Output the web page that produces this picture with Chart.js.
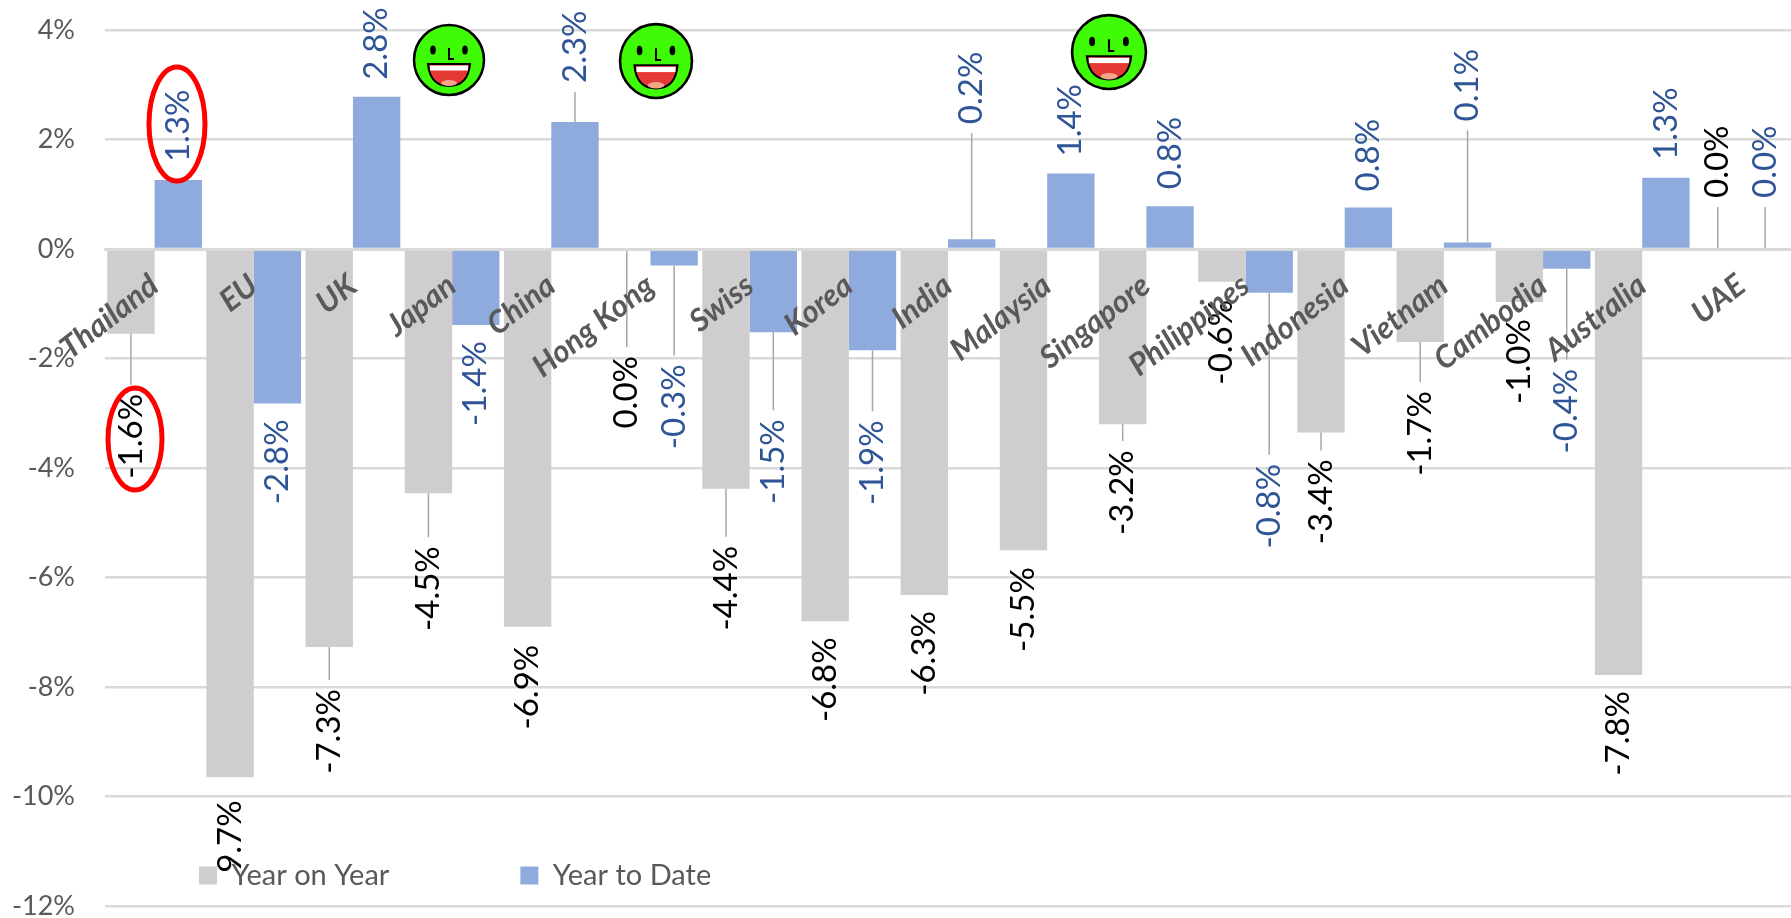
<!DOCTYPE html>
<html>
<head>
<meta charset="utf-8">
<title>Year on Year / Year to Date</title>
<script src="https://cdn.jsdelivr.net/npm/chart.js@4"></script>
<style>
    html, body { margin: 0; padding: 0; background: #fff; }
    canvas { display: block; }
</style>
</head>
<body>
<canvas id="myChart" width="1791" height="918"></canvas>
<script>
const categories = ['Thailand', 'EU', 'UK', 'Japan', 'China', 'Hong Kong', 'Swiss', 'Korea', 'India', 'Malaysia', 'Singapore', 'Philippines', 'Indonesia', 'Vietnam', 'Cambodia', 'Australia', 'UAE'];
const yearOnYear = [-1.55, -9.65, -7.27, -4.46, -6.9, 0, -4.38, -6.8, -6.32, -5.5, -3.2, -0.6, -3.35, -1.7, -0.97, -7.78, 0];
const yearToDate = [1.26, -2.82, 2.78, -1.39, 2.32, -0.3, -1.52, -1.85, 0.18, 1.38, 0.78, -0.8, 0.76, 0.12, -0.36, 1.3, 0];
const yTicks = [4, 2, 0, -2, -4, -6, -8, -10, -12];

// distance of each value label from its bar end, px. negative = below the bar end
const yoyLabelGap = [-60, -23, -42, -53, -18, -107, -57, -16, -16, -17, -26, -18, -27, -49, -17, -16, 51];
const ytdLabelGap = [18, -16, 17, -16, 39, -99, -87, -70, 115, 17, 17, -171, 16, 121, -100, 18, 51];

const GREY = '#cfcdce';
const BLUE = '#8faadc';
const TEXT_GREY = '#595959';
const LABEL_BLUE = '#2f5597';
const LEADER = '#a6a6a6';
const GRID = '#d9d9d9';
const LEGEND_GAP = 131;

function drawLabels(chart, index, gaps, color) {
    const ctx = chart.ctx;
    const bars = chart.getDatasetMeta(index).data;
    bars.forEach(function(bar, i) {
        const gap = gaps[i];
        const value = chart.data.datasets[index].data[i];
        const textY = bar.y - gap;
        if (Math.abs(gap) > 25) {
            const dir = gap > 0 ? 1 : -1;
            ctx.strokeStyle = LEADER;
            ctx.lineWidth = 1.5;
            ctx.beginPath();
            ctx.moveTo(bar.x, bar.y);
            ctx.lineTo(bar.x, textY + dir * 9);
            ctx.stroke();
        }
        ctx.save();
        ctx.translate(bar.x, textY);
        ctx.rotate(-Math.PI / 2);
        ctx.font = '33px Lato';
        ctx.fillStyle = color;
        ctx.textBaseline = 'middle';
        ctx.textAlign = gap > 0 ? 'left' : 'right';
        ctx.fillText(value.toFixed(1) + '%', 0, 0);
        ctx.restore();
    });
}

function drawSmiley(ctx, cx, cy, rx, ry) {
    ctx.save();
    ctx.translate(cx, cy);
    ctx.scale(rx / 36, ry / 36);
    ctx.fillStyle = '#3ffb05';
    ctx.strokeStyle = '#000';
    ctx.lineWidth = 2.5;
    ctx.beginPath();
    ctx.ellipse(0, 0, 35, 35, 0, 0, Math.PI * 2);
    ctx.fill();
    ctx.stroke();
    // eyes
    ctx.fillStyle = '#000';
    ctx.beginPath();
    ctx.ellipse(-16, -10, 2.8, 4.5, 0, 0, Math.PI * 2);
    ctx.ellipse(16, -10, 2.8, 4.5, 0, 0, Math.PI * 2);
    ctx.fill();
    // nose
    ctx.lineWidth = 2;
    ctx.beginPath();
    ctx.moveTo(0, -12);
    ctx.lineTo(0, -1);
    ctx.lineTo(5, -1);
    ctx.stroke();
    // mouth
    ctx.fillStyle = '#e53935';
    ctx.lineWidth = 2;
    ctx.beginPath();
    ctx.moveTo(-21, 4);
    ctx.lineTo(21, 4);
    ctx.quadraticCurveTo(19, 26, 0, 26);
    ctx.quadraticCurveTo(-19, 26, -21, 4);
    ctx.closePath();
    ctx.fill();
    ctx.stroke();
    ctx.fillStyle = '#fff';
    ctx.fillRect(-19, 5.5, 38, 5);
    ctx.fillStyle = '#f4a58a';
    ctx.beginPath();
    ctx.ellipse(0, 23, 8, 3, 0, 0, Math.PI * 2);
    ctx.fill();
    ctx.restore();
}

function drawRing(ctx, cx, cy, rx, ry) {
    ctx.strokeStyle = '#ff0000';
    ctx.lineWidth = 5;
    ctx.beginPath();
    ctx.ellipse(cx, cy, rx, ry, 0, 0, Math.PI * 2);
    ctx.stroke();
}

const annotate = {
    id: 'annotate',
    afterInit: function(chart) {
        // legend sits inside the plot, so it must not take room from the layout
        const fit = chart.legend.fit;
        chart.legend.fit = function() {
            fit.call(this);
            this.height = 0;
        };
    },
    afterLayout: function(chart) {
        const legend = chart.legend;
        legend.left = 199 - LEGEND_GAP;
        legend.right = 1791;
        legend.width = legend.right - legend.left;
        legend.top = 861 - LEGEND_GAP;
        legend.bottom = 918;
        legend.height = legend.bottom - legend.top;
    },
    afterDatasetsDraw: function(chart) {
        const ctx = chart.ctx;
        ctx.save();
        // the legend band hides whatever label runs into it
        ctx.beginPath();
        ctx.rect(0, 0, 1791, 873);
        ctx.clip();
        drawLabels(chart, 0, yoyLabelGap, '#000000');
        drawLabels(chart, 1, ytdLabelGap, LABEL_BLUE);
        ctx.restore();
        drawSmiley(ctx, 449, 60, 36, 36);
        drawSmiley(ctx, 656, 61, 37, 38);
        drawSmiley(ctx, 1109, 52, 38, 38);
        drawRing(ctx, 177, 124, 28, 57);
        drawRing(ctx, 135, 439, 27, 51);
    }
};

const myChart = document.getElementById('myChart').getContext('2d');

const barChart = new Chart(myChart, {
    type: 'bar',
    data: {
        labels: categories,
        datasets: [{
            label: 'Year on Year',
            data: yearOnYear,
            backgroundColor: GREY
        }, {
            label: 'Year to Date',
            data: yearToDate,
            backgroundColor: BLUE
        }]
    },
    options: {
        responsive: false,
        animation: false,
        events: [],
        layout: { autoPadding: false, padding: { top: 30, bottom: 12, left: 0, right: 0 } },
        categoryPercentage: 0.955,
        barPercentage: 1,
        scales: {
            x: {
                position: { y: 0 },
                afterFit: function(scale) { scale.paddingLeft = 0; scale.paddingRight = 0; },
                grid: { display: true, drawOnChartArea: false, drawTicks: false },
                border: { display: true, color: GRID, width: 3, z: 1 },
                ticks: {
                    z: 1,
                    autoSkip: false,
                    minRotation: 38,
                    maxRotation: 38,
                    padding: 18,
                    color: TEXT_GREY,
                    font: { family: 'Lato', size: 31, weight: 'bold', style: 'italic' }
                }
            },
            y: {
                min: -12,
                max: 4,
                afterFit: function(scale) {
                    scale.width = 105;
                    scale.paddingTop = 0;
                    scale.paddingBottom = 0;
                },
                afterBuildTicks: function(scale) {
                    scale.ticks = yTicks.map(function(v) { return { value: v }; });
                },
                grid: { color: GRID, lineWidth: 2.5, drawTicks: false },
                border: { display: false },
                ticks: {
                    padding: 30,
                    color: TEXT_GREY,
                    font: { family: 'Lato', size: 27 },
                    callback: function(value) { return value + '%'; }
                }
            }
        },
        plugins: {
            tooltip: { enabled: false },
            legend: {
                position: 'bottom',
                align: 'start',
                labels: {
                    boxWidth: 18,
                    boxHeight: 18,
                    padding: LEGEND_GAP,
                    color: TEXT_GREY,
                    font: { family: 'Lato', size: 29 }
                }
            }
        }
    },
    plugins: [annotate]
});
</script>
</body>
</html>
